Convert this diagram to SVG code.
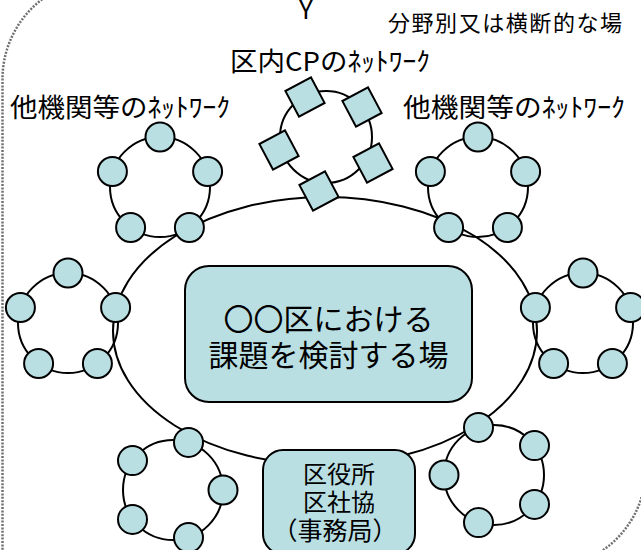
<svg xmlns="http://www.w3.org/2000/svg" width="641" height="550" viewBox="0 0 641 550">
<style>
.n{fill:#b9dfe3;stroke:#000;stroke-width:2}
.c{fill:none;stroke:#000;stroke-width:2}
.t{font-family:"Noto Sans CJK JP","Liberation Sans",sans-serif;fill:#000}
</style>
<defs>
<circle id="cn" r="14.5" class="n"/>
<rect id="sq" x="-14.5" y="-14.5" width="29" height="29" class="n"/>
</defs>
<rect width="641" height="550" fill="#fff"/>
<path id="frame" d="M2.5,560 L2.5,79 A100,100 0 0 1 102.5,-21 L646,-21 L646,468 A100,100 0 0 1 546,568 Z" fill="none" stroke="#707070" stroke-width="2.5" stroke-dasharray="2 1.4"/>
<text class="t" x="306" y="19" font-family="Liberation Sans" font-size="26" text-anchor="middle">Y</text>
<text class="t" x="388" y="31" font-size="22" textLength="234">分野別又は横断的な場</text>
<text class="t" x="230" y="71" font-size="26" textLength="200" lengthAdjust="spacingAndGlyphs">区内CPのﾈｯﾄﾜｰｸ</text>
<text class="t" x="10" y="117" font-size="26" textLength="220" lengthAdjust="spacingAndGlyphs">他機関等のﾈｯﾄﾜｰｸ</text>
<text class="t" x="403" y="117" font-size="26" textLength="222" lengthAdjust="spacingAndGlyphs">他機関等のﾈｯﾄﾜｰｸ</text>
<g id="connectors">
<ellipse cx="325" cy="331" rx="212" ry="134" class="c"/>
<circle cx="160" cy="187" r="50" class="c"/>
<circle cx="478" cy="187" r="50" class="c"/>
<circle cx="68" cy="323" r="50" class="c"/>
<circle cx="583" cy="323" r="50" class="c"/>
<circle cx="173" cy="490" r="50" class="c"/>
<circle cx="494" cy="475" r="50" class="c"/>
<circle cx="326" cy="137" r="46" class="c"/>
</g>
<g id="net-tl">
<use href="#cn" x="160" y="137"/><use href="#cn" x="207.6" y="171.5"/><use href="#cn" x="189.4" y="227.5"/><use href="#cn" x="130.6" y="227.5"/><use href="#cn" x="112.4" y="171.5"/>
</g>
<g id="net-tr">
<use href="#cn" x="478" y="137"/><use href="#cn" x="525.6" y="171.5"/><use href="#cn" x="507.4" y="227.5"/><use href="#cn" x="448.6" y="227.5"/><use href="#cn" x="430.4" y="171.5"/>
</g>
<g id="net-l">
<use href="#cn" x="68" y="273"/><use href="#cn" x="115.6" y="307.5"/><use href="#cn" x="97.4" y="363.5"/><use href="#cn" x="38.6" y="363.5"/><use href="#cn" x="20.4" y="307.5"/>
</g>
<g id="net-r">
<use href="#cn" x="583" y="273"/><use href="#cn" x="630.6" y="307.5"/><use href="#cn" x="612.4" y="363.5"/><use href="#cn" x="553.6" y="363.5"/><use href="#cn" x="535.4" y="307.5"/>
</g>
<g id="net-bl">
<use href="#cn" x="223" y="490"/><use href="#cn" x="188.5" y="537.6"/><use href="#cn" x="132.5" y="519.4"/><use href="#cn" x="132.5" y="460.6"/><use href="#cn" x="188.5" y="442.4"/>
</g>
<g id="net-br">
<use href="#cn" x="444" y="475"/><use href="#cn" x="478.5" y="427.4"/><use href="#cn" x="534.5" y="445.6"/><use href="#cn" x="534.5" y="504.4"/><use href="#cn" x="478.5" y="522.6"/>
</g>
<g id="net-cp">
<use href="#sq" transform="translate(305,97) rotate(-28)"/>
<use href="#sq" transform="translate(362,107) rotate(-28)"/>
<use href="#sq" transform="translate(279,150) rotate(-28)"/>
<use href="#sq" transform="translate(373,163) rotate(-28)"/>
<use href="#sq" transform="translate(319,191) rotate(-28)"/>
</g>
<g id="center">
<rect x="185" y="266" width="287" height="136" rx="24" class="n"/>
<text class="t" x="328.5" y="330" font-size="30" text-anchor="middle">〇〇区における</text>
<text class="t" x="328.5" y="366" font-size="30" text-anchor="middle">課題を検討する場</text>
</g>
<g id="office">
<rect x="263" y="450" width="152" height="104" rx="20" class="n"/>
<text class="t" x="339" y="483" font-size="24" text-anchor="middle">区役所</text>
<text class="t" x="339" y="511" font-size="24" text-anchor="middle">区社協</text>
<text class="t" x="335" y="540" font-size="25" text-anchor="middle">（事務局）</text>
</g>
</svg>
